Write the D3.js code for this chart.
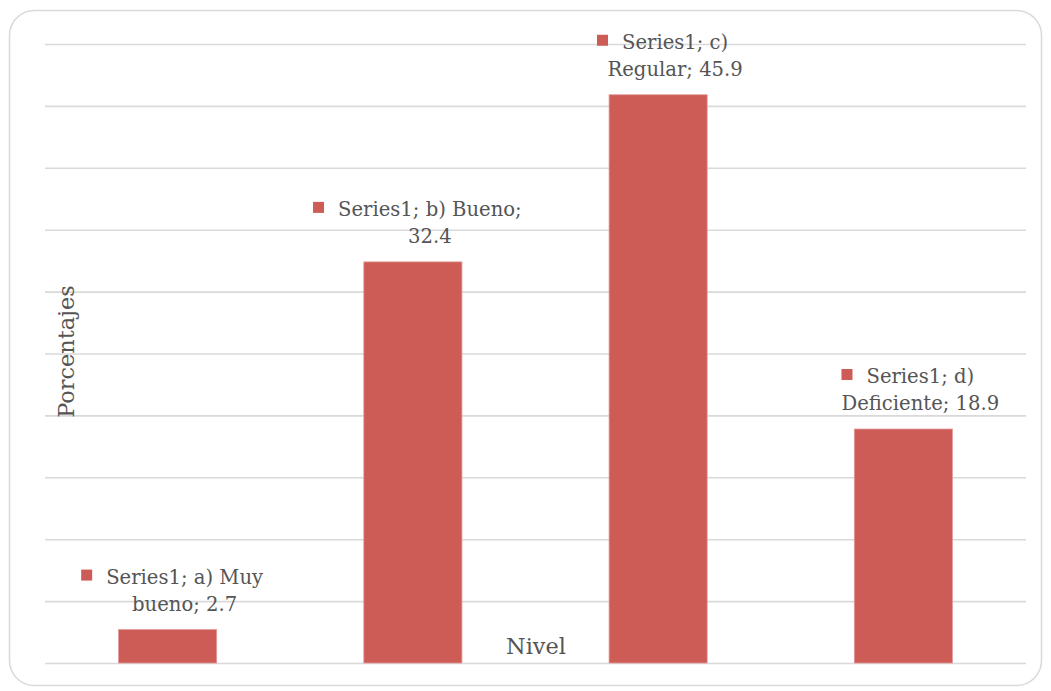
<!DOCTYPE html>
<html>
<head>
<meta charset="utf-8">
<script src="https://cdn.jsdelivr.net/npm/d3@7/dist/d3.min.js"></script>
<style>
  html, body { margin: 0; padding: 0; background: #fff; }
  svg { display: block; }
</style>
</head>
<body>
<svg id="chart" width="1051" height="691"></svg>
<script>
const categories = ["a) Muy bueno", "b) Bueno", "c) Regular", "d) Deficiente"];
const values = [2.7, 32.4, 45.9, 18.9];
const seriesName = "Series1";
const labelLines = [
  ["Series1; a) Muy", "bueno; 2.7"],
  ["Series1; b) Bueno;", "32.4"],
  ["Series1; c)", "Regular; 45.9"],
  ["Series1; d)", "Deficiente; 18.9"]
];
const yTicks = [0, 5, 10, 15, 20, 25, 30, 35, 40, 45, 50];
const yTitle = "Porcentajes";
const xTitle = "Nivel";

const svg = d3.select("#chart");
const plot = { left: 45, right: 1026, top: 44, bottom: 663 };
const barColor = "#cd5b56";
const textColor = "#555555";
const font = "'DejaVu Serif', serif";
const fs = 19.6;
const fsTitle = 22.4;

// outer border
svg.append("rect")
  .attr("x", 9.5).attr("y", 10.5)
  .attr("width", 1032).attr("height", 675)
  .attr("rx", 25).attr("ry", 25)
  .attr("fill", "#fff")
  .attr("stroke", "#d9d9d9").attr("stroke-width", 1.5);

const x = d3.scaleBand().domain(categories)
  .range([plot.left, plot.right]).paddingInner(0.6).paddingOuter(0.3);
const y = d3.scaleLinear().domain([0, 50]).range([plot.bottom, plot.top]);

// gridlines
const yAxis = d3.axisLeft(y).tickValues(yTicks).tickSize(-(plot.right - plot.left)).tickFormat("");
const gAxis = svg.append("g").attr("transform", `translate(${plot.left},0)`).call(yAxis);
gAxis.select(".domain").remove();
gAxis.selectAll(".tick line").attr("stroke", "#d9d9d9").attr("stroke-width", 1.6);

// bars
svg.append("g").selectAll("rect").data(values).join("rect")
  .attr("x", (d, i) => x(categories[i]))
  .attr("y", d => y(d))
  .attr("width", x.bandwidth())
  .attr("height", d => y(0) - y(d))
  .attr("fill", barColor)
  .attr("stroke", "#e49a97").attr("stroke-width", 0.8);

// x axis title
svg.append("text")
  .attr("x", 536).attr("y", 654)
  .attr("text-anchor", "middle")
  .attr("font-family", font).attr("font-size", fsTitle)
  .attr("fill", textColor)
  .text(xTitle);

// y axis title
svg.append("text")
  .attr("transform", `translate(74,${(plot.top + plot.bottom) / 2 - 2}) rotate(-90)`)
  .attr("text-anchor", "middle")
  .attr("font-family", font).attr("font-size", fsTitle)
  .attr("fill", textColor)
  .text(yTitle);

// data labels with legend key
const lg = svg.append("g");
values.forEach((v, i) => {
  const cx = x(categories[i]) + x.bandwidth() / 2 + 17;
  const top = y(v);
  const b2 = top - 19;
  const b1 = b2 - 27;
  const t1 = lg.append("text")
    .attr("x", cx).attr("y", b1)
    .attr("text-anchor", "middle")
    .attr("font-family", font).attr("font-size", fs)
    .attr("fill", textColor)
    .text(labelLines[i][0]);
  lg.append("text")
    .attr("x", cx).attr("y", b2)
    .attr("text-anchor", "middle")
    .attr("font-family", font).attr("font-size", fs)
    .attr("fill", textColor)
    .text(labelLines[i][1]);
  const w = t1.node().getComputedTextLength();
  lg.append("rect")
    .attr("x", cx - w / 2 - 25).attr("y", b1 - 14)
    .attr("width", 11).attr("height", 11)
    .attr("fill", barColor);
});
</script>
</body>
</html>
